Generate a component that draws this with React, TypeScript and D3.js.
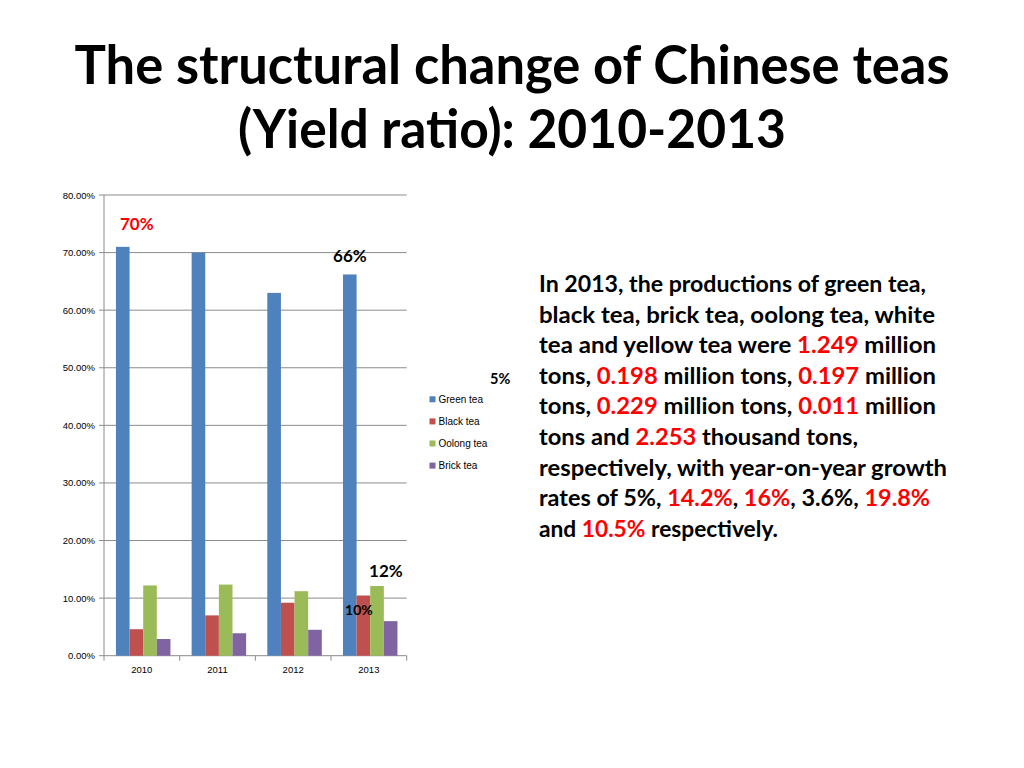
import React from 'react';
import * as d3 from 'd3';

const categories = ['2010', '2011', '2012', '2013'];
const seriesNames = ['Green tea', 'Black tea', 'Oolong tea', 'Brick tea'];
const greenTea = [71.0, 70.0, 63.0, 66.2];
const blackTea = [4.6, 7.0, 9.2, 10.45];
const oolongTea = [12.2, 12.35, 11.2, 12.1];
const brickTea = [2.9, 3.9, 4.5, 6.0];
const seriesColors = ['#4F81BD', '#C0504D', '#9BBB59', '#8064A2'];
const yTicks = [0, 10, 20, 30, 40, 50, 60, 70, 80];

const titleLines = ['The structural change of Chinese teas', '(Yield ratio): 2010-2013'];

type Seg = [string, boolean];
const noteLines: Seg[][] = [
  [['In 2013, the productions of green tea,', false]],
  [['black tea, brick tea, oolong tea, white', false]],
  [['tea and yellow tea were ', false], ['1.249', true], [' million', false]],
  [['tons, ', false], ['0.198', true], [' million tons, ', false], ['0.197', true], [' million', false]],
  [['tons, ', false], ['0.229', true], [' million tons, ', false], ['0.011', true], [' million', false]],
  [['tons and ', false], ['2.253', true], [' thousand tons,', false]],
  [['respectively, with year-on-year growth', false]],
  [['rates of 5%, ', false], ['14.2%', true], [', ', false], ['16%', true], [', 3.6%, ', false], ['19.8%', true]],
  [['and ', false], ['10.5%', true], [' respectively.', false]],
];
const noteWidths = [387, 396, 397, 397, 397, 319, 408, 391, 239];

export default function App() {
  const series = [greenTea, blackTea, oolongTea, brickTea];
  const left = 104, right = 406.7, top = 195, bottom = 655.7;
  const x0 = d3.scaleBand<string>().domain(categories).range([left, right]).paddingInner(0).paddingOuter(0);
  const bw = x0.bandwidth();
  const x1 = d3.scaleBand<string>().domain(seriesNames).range([bw * 0.158, bw * 0.158 + bw * 0.72]);
  const y = d3.scaleLinear().domain([0, 80]).range([bottom, top]);
  const grid = '#8C8C8C';
  const font = 'Lato, "Liberation Sans", sans-serif';
  const axisFont = '"Liberation Sans", Arial, sans-serif';

  return (
    <svg width={1024} height={768} style={{ display: 'block', position: 'absolute', left: 0, top: 0, background: '#fff' }}>
      <rect width={1024} height={768} fill="#fff" />
      {/* title */}
      <text x={512} y={84} textAnchor="middle" fontFamily={font} fontWeight={700} fontSize={54} textLength={875} lengthAdjust="spacingAndGlyphs">{titleLines[0]}</text>
      <text x={512} y={148} textAnchor="middle" fontFamily={font} fontWeight={700} fontSize={54} textLength={548} lengthAdjust="spacingAndGlyphs">{titleLines[1]}</text>

      {/* gridlines */}
      {yTicks.map((t) => (
        <line key={'g' + t} x1={left - 5} x2={right} y1={y(t)} y2={y(t)} stroke={grid} strokeWidth={1} />
      ))}
      {/* y axis */}
      <line x1={left} x2={left} y1={top} y2={bottom} stroke={grid} strokeWidth={1} />
      {yTicks.map((t) => (
        <text key={'yl' + t} x={95} y={y(t) + 3.5} textAnchor="end" fontFamily={axisFont} fontSize={9.5} fill="#000">
          {d3.format('.2f')(t) + '%'}
        </text>
      ))}
      {/* x axis ticks */}
      {[...categories.map((c) => x0(c) as number), right].map((v, i) => (
        <line key={'xt' + i} x1={v} x2={v} y1={bottom} y2={bottom + 5} stroke={grid} strokeWidth={1} />
      ))}
      {categories.map((c) => (
        <text key={'xl' + c} x={(x0(c) as number) + bw / 2} y={673} textAnchor="middle" fontFamily={axisFont} fontSize={9.5} fill="#000">{c}</text>
      ))}

      {/* bars */}
      {categories.map((c, ci) =>
        seriesNames.map((s, si) => {
          const v = series[si][ci];
          return (
            <rect key={c + s} x={(x0(c) as number) + (x1(s) as number)} y={y(v)} width={x1.bandwidth()} height={y(0) - y(v)} fill={seriesColors[si]} />
          );
        })
      )}

      {/* annotations */}
      <text x={(x0('2010') as number) + 16} y={230} fontFamily={font} fontWeight={700} fontSize={17} fill="#FF0000">70%</text>
      <text x={(x0('2013') as number) + 2} y={262} fontFamily={font} fontWeight={700} fontSize={17} fill="#000">66%</text>
      <text x={(x0('2013') as number) + 38} y={577} fontFamily={font} fontWeight={700} fontSize={17} fill="#000">12%</text>
      <text x={(x0('2013') as number) + 14} y={615} fontFamily={font} fontWeight={700} fontSize={14} fill="#000">10%</text>
      <text x={490} y={384} fontFamily={font} fontWeight={700} fontSize={14.5} fill="#000">5%</text>

      {/* legend */}
      {seriesNames.map((s, i) => (
        <g key={'lg' + s} transform={`translate(429.5, ${399.3 + i * 22.1})`}>
          <rect x={0} y={-3} width={6} height={6} fill={seriesColors[i]} />
          <text x={9} y={3.5} fontFamily={axisFont} fontSize={10} fill="#000">{s}</text>
        </g>
      ))}

      {/* note text */}
      {noteLines.map((line, i) => (
        <text key={'n' + i} x={539} y={292 + i * 30.6} fontFamily={font} fontWeight={700} fontSize={23} fill="#000" textLength={noteWidths[i]} lengthAdjust="spacingAndGlyphs" style={{ whiteSpace: 'pre' }}>
          {line.map((seg, j) => (
            <tspan key={j} fill={seg[1] ? '#FF0000' : '#000'}>{seg[0]}</tspan>
          ))}
        </text>
      ))}
    </svg>
  );
}
